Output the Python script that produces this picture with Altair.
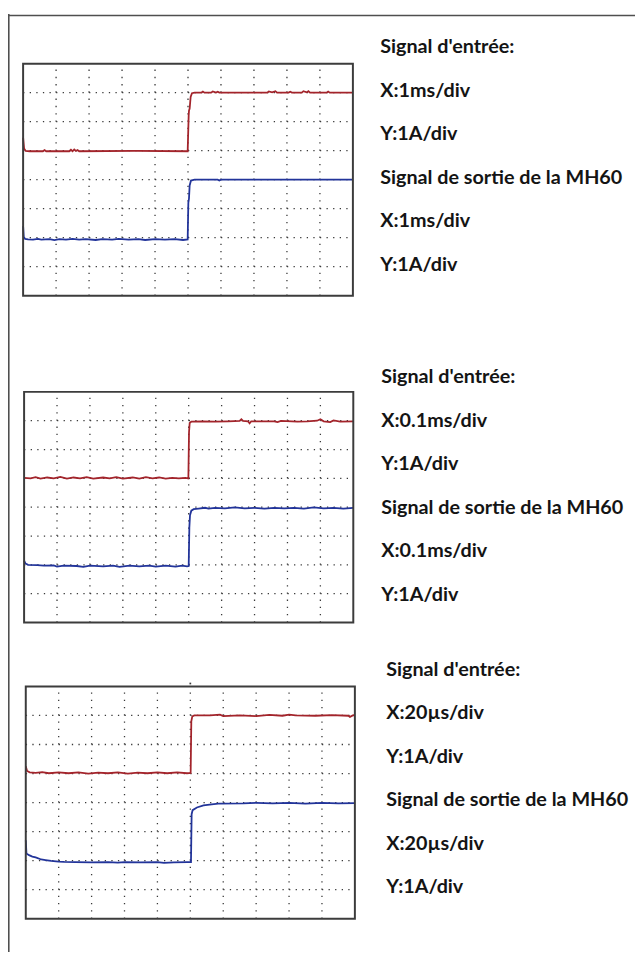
import altair as alt
import pandas as pd

# ---------------- data (in divisions) ----------------
grid_x = [1, 2, 3, 4, 5, 6, 7, 8, 9]
grid_y = [1, 2, 3, 4, 5, 6, 7]

p1_red = [(0.00,5.45),(0.03,5.07),(0.08,4.99),(0.20,4.98),(0.60,4.98),(0.65,5.02),(0.70,4.98),
          (1.40,4.98),(1.45,5.03),(1.50,4.98),(1.55,5.04),(1.60,4.99),(1.65,5.02),(1.70,4.98),
          (3.40,4.99),(4.99,4.98),(5.02,6.20),(5.03,6.38),(5.05,6.45),(5.08,6.85),(5.12,6.98),
          (5.20,7.00),(5.40,7.00),(5.45,7.04),(5.50,7.00),(5.70,7.00),(5.75,7.04),(5.85,7.00),
          (5.90,7.03),(5.95,7.00),(7.40,7.00),(7.45,7.04),(7.55,7.01),(7.65,7.05),(7.70,7.00),
          (8.05,7.00),(8.10,7.03),(8.15,7.00),(8.45,7.00),(8.50,7.05),(8.60,7.01),(8.65,7.05),
          (8.70,7.00),(9.20,7.00),(9.25,7.04),(9.30,7.00),(10.00,7.00)]
p1_blue = [(0.00,2.40),(0.02,2.02),(0.06,1.96),(0.15,1.94),(0.30,1.93),(0.45,1.96),(0.55,1.93),
           (0.80,1.95),(0.95,1.92),(1.10,1.95),(1.30,1.93),(1.50,1.96),(1.70,1.93),(1.90,1.95),
           (2.20,1.92),(2.40,1.95),(2.70,1.93),(2.90,1.96),(3.20,1.93),(3.50,1.95),(3.70,1.92),
           (4.00,1.95),(4.30,1.93),(4.60,1.95),(4.85,1.92),(4.99,1.94),(5.01,3.20),(5.03,3.35),
           (5.05,3.80),(5.09,3.97),(5.20,4.00),(5.90,4.00),(5.95,3.97),(6.00,4.00),(10.00,4.00)]
p2_red = [(0.00,5.02),(0.20,5.00),(0.35,5.04),(0.50,4.99),(0.70,5.03),(0.90,5.00),(1.10,5.05),
          (1.30,4.99),(1.50,5.03),(1.70,5.00),(1.90,5.04),(2.10,4.99),(2.40,5.03),(2.60,5.00),
          (2.80,5.04),(3.00,4.99),(3.30,5.03),(3.50,4.99),(3.70,5.04),(3.90,5.00),(4.10,5.03),
          (4.30,4.99),(4.50,5.02),(4.70,5.00),(4.90,5.02),(4.99,5.00),(5.01,6.60),(5.03,6.92),
          (5.08,6.97),(5.40,6.98),(5.80,6.97),(6.20,6.98),(6.55,6.99),(6.60,7.05),(6.65,6.99),
          (6.80,6.98),(6.85,6.91),(6.90,6.98),(7.60,6.98),(7.70,6.95),(7.80,6.99),(8.30,6.97),
          (8.60,6.98),(8.90,7.00),(9.00,7.05),(9.10,6.98),(9.30,6.95),(9.40,7.01),(9.60,6.97),
          (10.00,6.98)]
p2_blue = [(0.00,2.15),(0.04,2.05),(0.12,2.00),(0.40,1.99),(0.60,1.97),(0.90,1.98),(1.00,1.94),
           (1.20,1.97),(1.60,1.96),(1.80,1.93),(2.00,1.97),(2.40,1.95),(2.70,1.97),(2.90,1.93),
           (3.20,1.97),(3.50,1.95),(3.80,1.97),(4.00,1.94),(4.30,1.97),(4.60,1.94),(4.80,1.97),
           (4.95,1.95),(5.00,1.96),(5.02,3.30),(5.04,3.72),(5.08,3.88),(5.15,3.93),(5.30,3.95),
           (5.50,3.98),(5.60,3.95),(5.80,3.98),(6.10,3.96),(6.40,3.99),(6.70,3.96),(7.00,3.98),
           (7.30,3.95),(7.60,3.98),(7.90,3.96),(8.20,3.98),(8.50,3.95),(8.80,3.99),(9.10,3.96),
           (9.40,3.98),(9.70,3.95),(10.00,3.98)]
p3_red = [(0.00,5.25),(0.04,5.09),(0.12,5.04),(0.30,5.02),(0.50,5.05),(0.70,5.01),(1.00,5.04),
          (1.30,5.01),(1.60,5.04),(1.90,5.00),(2.20,5.03),(2.50,5.01),(2.80,5.04),(3.10,5.00),
          (3.40,5.03),(3.70,5.01),(4.00,5.04),(4.30,5.01),(4.60,5.04),(4.90,5.01),(5.01,5.02),
          (5.03,6.80),(5.06,6.97),(5.12,7.00),(5.60,7.00),(5.90,7.03),(6.00,6.98),(6.50,7.00),
          (7.00,6.98),(7.40,7.02),(7.80,6.99),(8.00,7.03),(8.20,7.00),(8.80,6.99),(9.30,7.01),
          (9.80,6.99),(9.85,6.95),(9.95,7.01),(10.00,7.00)]
p3_blue = [(0.00,2.70),(0.02,2.25),(0.10,2.19),(0.20,2.14),(0.30,2.11),(0.47,2.04),(0.60,2.02),
           (0.77,1.99),(1.00,1.97),(1.17,1.96),(1.50,1.95),(2.00,1.94),(2.50,1.95),(2.80,1.93),
           (3.00,1.95),(3.50,1.94),(4.00,1.95),(4.20,1.92),(4.50,1.94),(4.90,1.95),(5.02,1.95),
           (5.04,3.60),(5.07,3.74),(5.20,3.83),(5.40,3.90),(5.65,3.94),(5.85,3.96),(6.60,3.97),
           (7.00,3.99),(7.50,3.97),(8.00,3.99),(8.50,3.96),(9.00,3.99),(9.50,3.97),(10.00,3.98)]

trigger_p3 = [(5.0, 8.1)]

labels_1 = ["Signal d'entrée:", "X:1ms/div", "Y:1A/div",
            "Signal de sortie de la MH60", "X:1ms/div", "Y:1A/div"]
labels_2 = ["Signal d'entrée:", "X:0.1ms/div", "Y:1A/div",
            "Signal de sortie de la MH60", "X:0.1ms/div", "Y:1A/div"]
labels_3 = ["Signal d'entrée:", "X:20µs/div", "Y:1A/div",
            "Signal de sortie de la MH60", "X:20µs/div", "Y:1A/div"]

# ---------------- layout / style ----------------
W, H = 635, 950
RED, BLUE = "#a3242b", "#22349a"
FRAME, GRIDC, BORDER = "#3c3c3c", "#3a3a3a", "#4f4f4f"
FONT, FSIZE = "Lato", 20
LINE_STEP = 44

panels = [
    dict(x0=15.3, x1=349.3, y0=50.3, y1=285.3, tx=377, ty0=40.0,
         red=p1_red, blue=p1_blue, labels=labels_1, trig=[]),
    dict(x0=16.3, x1=349.7, y0=382.7, y1=616.3, tx=378, ty0=374.0,
         red=p2_red, blue=p2_blue, labels=labels_2, trig=[]),
    dict(x0=18.0, x1=351.3, y0=681.0, y1=916.3, tx=383, ty0=670.5,
         red=p3_red, blue=p3_blue, labels=labels_3, trig=trigger_p3),
]

layers = []
for p in panels:
    xs = alt.Scale(domain=[0, 10], range=[p["x0"], p["x1"]], nice=False, zero=False)
    ys = alt.Scale(domain=[0, 8], range=[p["y1"], p["y0"]], nice=False, zero=False)
    pw = p["x1"] - p["x0"]
    ph = p["y1"] - p["y0"]

    # vertical dotted grid lines
    gv = pd.DataFrame({"x": grid_x, "ya": 0, "yb": 8})
    layers.append(
        alt.Chart(gv).mark_rule(color=GRIDC, strokeWidth=1.3,
                                strokeDash=[1.3, ph / 32 - 1.3]).encode(
            x=alt.X("x:Q", scale=xs, axis=None),
            y=alt.Y("ya:Q", scale=ys, axis=None),
            y2="yb:Q")
    )
    # horizontal dotted grid lines
    gh = pd.DataFrame({"y": grid_y, "xa": 0, "xb": 10})
    layers.append(
        alt.Chart(gh).mark_rule(color=GRIDC, strokeWidth=1.3,
                                strokeDash=[1.3, pw / 50 - 1.3]).encode(
            y=alt.Y("y:Q", scale=ys, axis=None),
            x=alt.X("xa:Q", scale=xs, axis=None),
            x2="xb:Q")
    )
    # traces
    for key, col in (("red", RED), ("blue", BLUE)):
        d = pd.DataFrame(p[key], columns=["x", "y"])
        d["i"] = range(len(d))
        layers.append(
            alt.Chart(d).mark_line(color=col, strokeWidth=1.8, interpolate="linear").encode(
                x=alt.X("x:Q", scale=xs, axis=None),
                y=alt.Y("y:Q", scale=ys, axis=None),
                order="i:Q")
        )
    # screen frame
    fr = pd.DataFrame({"xa": [0], "xb": [10], "ya": [0], "yb": [8]})
    layers.append(
        alt.Chart(fr).mark_rect(fill=None, stroke=FRAME, strokeWidth=2).encode(
            x=alt.X("xa:Q", scale=xs, axis=None), x2="xb:Q",
            y=alt.Y("ya:Q", scale=ys, axis=None), y2="yb:Q")
    )
    # trigger marker
    if p["trig"]:
        t = pd.DataFrame(p["trig"], columns=["x", "y"])
        layers.append(
            alt.Chart(t).mark_square(color=GRIDC, size=3, opacity=1).encode(
                x=alt.X("x:Q", scale=xs, axis=None),
                y=alt.Y("y:Q", scale=ys, axis=None))
        )
    # labels
    ld = pd.DataFrame({"line": list(range(len(p["labels"]))), "txt": p["labels"]})
    ts = alt.Scale(domain=[0, 5], range=[p["ty0"], p["ty0"] + 5 * LINE_STEP],
                   nice=False, zero=False)
    layers.append(
        alt.Chart(ld).mark_text(align="left", baseline="alphabetic", font=FONT,
                                fontSize=FSIZE, fontWeight="bold", color="#141414").encode(
            x=alt.value(p["tx"]),
            y=alt.Y("line:Q", scale=ts, axis=None),
            text="txt:N")
    )

# outer page border (left and top edges)
one = pd.DataFrame({"k": [0]})
layers.append(alt.Chart(one).mark_rule(color=BORDER, strokeWidth=1.6).encode(
    x=alt.value(0.8), y=alt.value(0), y2=alt.value(H)))
layers.append(alt.Chart(one).mark_rule(color=BORDER, strokeWidth=1.6).encode(
    x=alt.value(0), x2=alt.value(W), y=alt.value(1.6)))

chart = alt.layer(*layers).resolve_scale(x="independent", y="independent").properties(
    width=W, height=H, padding=0, autosize=alt.AutoSizeParams(type="none"),
    background="white"
).configure_view(stroke=None)

chart.save("out.html", embed_options={"renderer": "svg", "actions": False})
